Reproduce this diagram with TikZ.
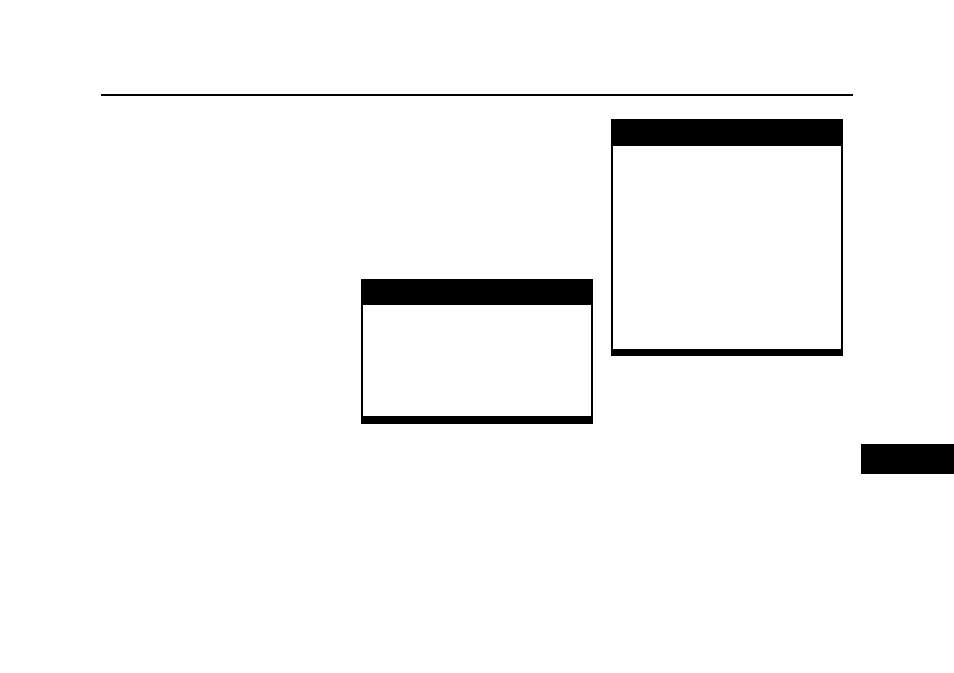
\documentclass[tikz,border=0pt]{standalone}
\usepackage{tikz}
\begin{document}
\begin{tikzpicture}[x=0.01cm,y=-0.01cm,
	panel/.style={draw,line width=0.6pt},
	bar/.style={fill=black}
	]
	\useasboundingbox (0,0) rectangle (954,673);

	% rule at the top
	\draw[line width=0.6pt] (101,95) -- (853,95);

	% left panel
	\draw[panel] (362,280) rectangle (592,423);
	\fill[bar] (362,280) rectangle (592,305);
	\fill[bar] (362,416) rectangle (592,423);

	% right panel
	\draw[panel] (612,120) rectangle (842,355);
	\fill[bar] (612,120) rectangle (842,146);
	\fill[bar] (612,349) rectangle (842,355);

	% side tab
	\fill[bar] (861,444) rectangle (954,474);
\end{tikzpicture}
\end{document}
